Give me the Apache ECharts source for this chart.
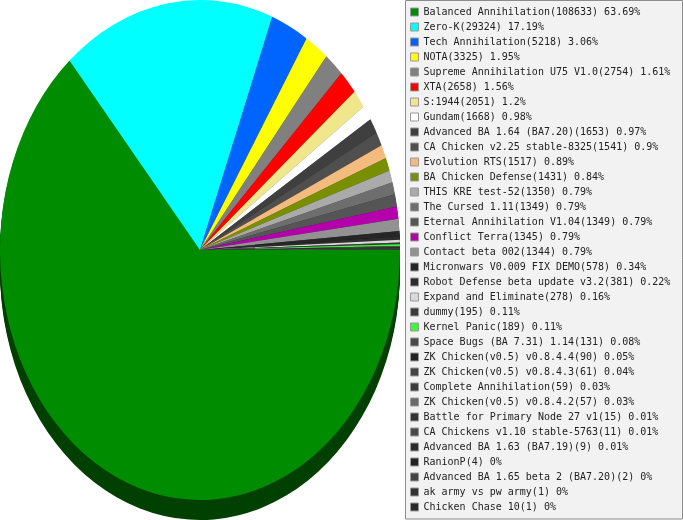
<!DOCTYPE html>
<html>
<head>
<meta charset="utf-8">
<style>
html,body{margin:0;padding:0;background:#fff;overflow:hidden}
#pie{position:absolute;left:0;top:0;width:400px;height:416px;transform-origin:0 0;transform:scaleY(1.25)}
#key{position:absolute;left:0;top:0;width:683px;height:520px}
</style>
<script src="https://cdn.jsdelivr.net/npm/echarts@6/dist/echarts.min.js"></script>
</head>
<body>
<div id="key"></div>
<div id="pie"></div>
<script>
const names = ["Balanced Annihilation","Zero-K","Tech Annihilation","NOTA","Supreme Annihilation U75 V1.0","XTA","S:1944","Gundam","Advanced BA 1.64 (BA7.20)","CA Chicken v2.25 stable-8325","Evolution RTS","BA Chicken Defense","THIS KRE test-52","The Cursed 1.11","Eternal Annihilation V1.04","Conflict Terra","Contact beta 002","Micronwars V0.009 FIX DEMO","Robot Defense beta update v3.2","Expand and Eliminate","dummy","Kernel Panic","Space Bugs (BA 7.31) 1.14","ZK Chicken(v0.5) v0.8.4.4","ZK Chicken(v0.5) v0.8.4.3","Complete Annihilation","ZK Chicken(v0.5) v0.8.4.2","Battle for Primary Node 27 v1","CA Chickens v1.10 stable-5763","Advanced BA 1.63 (BA7.19)","RanionP","Advanced BA 1.65 beta 2 (BA7.20)","ak army vs pw army","Chicken Chase 10"];
const counts = [108633,29324,5218,3325,2754,2658,2051,1668,1653,1541,1517,1431,1350,1349,1349,1345,1344,578,381,278,195,189,131,90,61,59,57,15,11,9,4,2,1,1];
const percents = ["63.69","17.19","3.06","1.95","1.61","1.56","1.2","0.98","0.97","0.9","0.89","0.84","0.79","0.79","0.79","0.79","0.79","0.34","0.22","0.16","0.11","0.11","0.08","0.05","0.04","0.03","0.03","0.01","0.01","0.01","0","0","0","0"];
const colors = ["#008c00","#00ffff","#0064ff","#ffff00","#808080","#ff0000","#f0e68c","#ffffff","#3f3f3f","#4f4f4f","#f4bb7f","#778f00","#aaaaaa","#6e6e6e","#555555","#b400aa","#929292","#262626","#2c2c2c","#d9d9d9","#3a3a3a","#33ff33","#4a4a4a","#222222","#444444","#3c3c3c","#6a6a6a","#333333","#4a4a4a","#2b2b2b","#222222","#444444","#333333","#2a2a2a"];
const darkColors = ["#004000","#007070","#002c70","#707000","#383838","#700000","#6a6540","#707070","#1c1c1c","#232323","#6c5238","#344000","#4b4b4b","#303030","#262626","#50004b","#404040","#111111","#141414","#606060","#1a1a1a","#167016","#202020","#0f0f0f","#1e1e1e","#1a1a1a","#2f2f2f","#161616","#202020","#131313","#0f0f0f","#1e1e1e","#161616","#121212"];
const depths = [20,18,16,14,12,10,8,6,4,2];

const sliceData = palette => names.map((name, i) => ({name, value: counts[i], itemStyle: {color: palette[i]}}));
const pieBase = {
  type: 'pie', startAngle: 0, clockwise: true, animation: false, silent: true,
  label: {show: false}, labelLine: {show: false}, emphasis: {disabled: true}
};

const pie = echarts.init(document.getElementById('pie'), null, {renderer: 'svg', width: 400, height: 416});
pie.setOption({
  animation: false,
  series: [
    ...depths.map(d => ({...pieBase, radius: [0, 200], center: [200, 200 + d / 1.25], data: sliceData(darkColors)})),
    {...pieBase, radius: [0, 200], center: [200, 200], data: sliceData(colors)}
  ]
});

const key = echarts.init(document.getElementById('key'), null, {renderer: 'canvas', width: 683, height: 520});
key.setOption({
  animation: false,
  graphic: [{
    type: 'rect', silent: true, z: -1,
    shape: {x: 405.5, y: 0.5, width: 277, height: 518.5},
    style: {fill: '#f2f2f2', stroke: '#8c8c8c', lineWidth: 1}
  }],
  legend: {
    orient: 'vertical', left: 410, top: 7, height: 512, padding: 0,
    selectedMode: false, icon: 'rect', itemWidth: 8, itemHeight: 8, itemGap: 5,
    inactiveColor: '#888',
    itemStyle: {borderColor: '#999999', borderWidth: 1},
    textStyle: {fontFamily: '"DejaVu Sans Mono"', fontSize: 10, lineHeight: 10, color: '#222222'},
    data: names,
    formatter: name => {
      const i = names.indexOf(name);
      return `${name}(${counts[i]}) ${percents[i]}%`;
    }
  },
  series: [{...pieBase, radius: [0, 0], center: [200, 250], data: sliceData(colors)}]
});
</script>
</body>
</html>
